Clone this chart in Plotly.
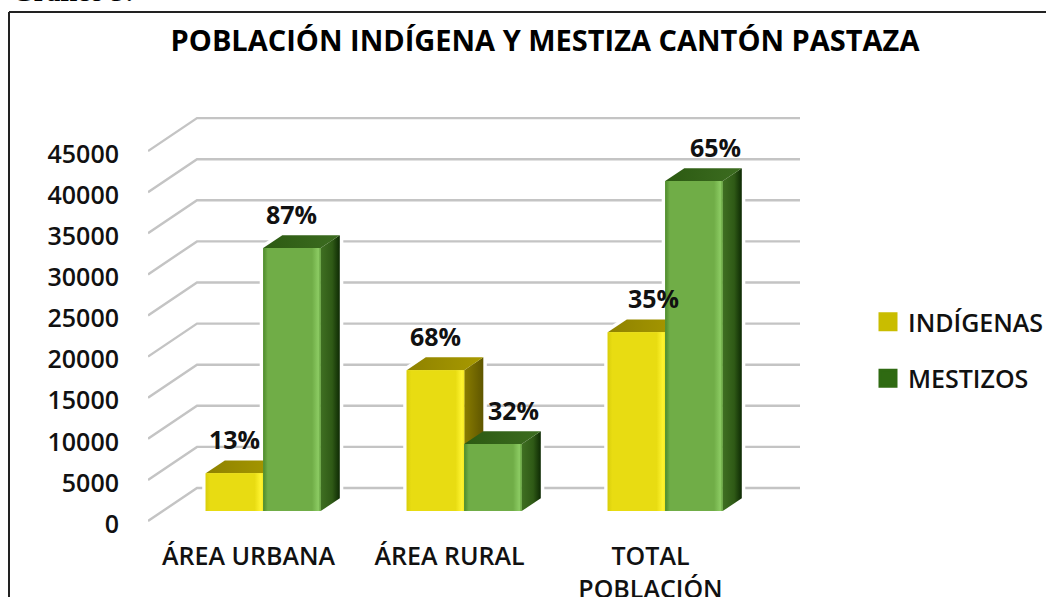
import plotly.graph_objects as go

# ---- data ----
categories = ["ÁREA URBANA", "ÁREA RURAL", "TOTAL<br>POBLACIÓN"]
indigenas = [4600, 17150, 21750]
mestizos = [32000, 8150, 40150]
indigenas_pct = ["13%", "68%", "35%"]
mestizos_pct = ["87%", "32%", "65%"]
y_ticks = [0, 5000, 10000, 15000, 20000, 25000, 30000, 35000, 40000, 45000]
title = "POBLACIÓN INDÍGENA Y MESTIZA CANTÓN PASTAZA"
caption = "Gráfico 3:"

# ---- oblique projection, in axis units ----
W, H = 1046, 597
L, R, T, B = 148, 800, 105, 535
PX_PER_CAT = 201.0
UNITS_PER_PX = 5000 / 41.1
Y0_PX = 521
WALL_DX = 49 / PX_PER_CAT
WALL_DY = 33 * UNITS_PER_PX
D_FRONT = 0.30
D_DEPTH = 0.39
BAR_W = 0.286
FONT = "Open Sans"
TXT = "#111111"


def px(x):
    return x / W


def py(y):
    return 1 - y / H


def paper_x(x):
    return (x - L) / (R - L)


def paper_y(y):
    return (B - y) / (B - T)


fig = go.Figure()

# walls
x_end = (R - L) / PX_PER_CAT
for v in y_ticks:
    fig.add_trace(go.Scatter(
        x=[0, WALL_DX, x_end], y=[v, v + WALL_DY, v + WALL_DY], mode="lines",
        line=dict(color="#c4c4c4", width=2.4), showlegend=False, hoverinfo="skip", zorder=0))


def poly(xs, ys, scale, z):
    fig.add_trace(go.Scatter(
        x=xs + xs[:1], y=ys + ys[:1], mode="lines", fill="toself", line=dict(width=0),
        fillgradient=dict(type="horizontal", colorscale=scale),
        showlegend=False, hoverinfo="skip", zorder=z))


def bar3d(cx, val, face, side, top, solid, name, z):
    base = D_FRONT * WALL_DY
    dx, dy = D_DEPTH * WALL_DX, D_DEPTH * WALL_DY
    x0, x1 = cx - BAR_W / 2, cx + BAR_W / 2
    y0, y1 = base, base + val
    # white halo that interrupts the grid lines around the bar
    fig.add_trace(go.Scatter(
        x=[x0, x1, x1 + dx, x1 + dx, x0 + dx, x0, x0],
        y=[y0, y0, y0 + dy, y1 + dy, y1 + dy, y1, y0], mode="lines",
        line=dict(color="white", width=7), showlegend=False, hoverinfo="skip", zorder=1))
    poly([x1, x1 + dx, x1 + dx, x1], [y0, y0 + dy, y1 + dy, y1], side, z)
    poly([x0, x0 + dx, x1 + dx, x1], [y1, y1 + dy, y1 + dy, y1], top, z)
    fig.add_trace(go.Bar(
        x=[cx], y=[val], base=[base], width=BAR_W, marker=dict(color=solid, line=dict(width=0)),
        name=name, showlegend=False, hoverinfo="skip", zorder=z + 1))
    poly([x0, x1, x1, x0], [y0, y0, y1, y1], face, z + 2)


Y_FACE = [[0, "#d9ce0c"], [0.08, "#e8dc12"], [0.85, "#e8dc12"], [0.96, "#fff430"], [1, "#f5e820"]]
Y_SIDE = [[0, "#8a7d00"], [1, "#5f5600"]]
Y_TOP = [[0, "#8f8200"], [1, "#a89a00"]]
G_FACE = [[0, "#4e8a2c"], [0.08, "#70ad47"], [0.85, "#70ad47"], [0.96, "#8ccb63"], [1, "#5f9c3a"]]
G_SIDE = [[0, "#3f6f22"], [0.6, "#2f5a16"], [1, "#0e2a04"]]
G_TOP = [[0, "#2c5a12"], [1, "#3c6c20"]]

centers = [i + 0.5 + D_FRONT * WALL_DX for i in range(len(categories))]
for i, c in enumerate(centers):
    bar3d(c - BAR_W / 2, indigenas[i], Y_FACE, Y_SIDE, Y_TOP, "#e8dc12", "INDÍGENAS", 2 + 4 * i)
    bar3d(c + BAR_W / 2, mestizos[i], G_FACE, G_SIDE, G_TOP, "#70ad47", "MESTIZOS", 4 + 4 * i)

# legend entries
fig.add_trace(go.Scatter(x=[None], y=[None], mode="markers", name="INDÍGENAS", legendgroup="a",
                         marker=dict(symbol="square", size=16, color="#c9bd00",
                                     line=dict(color="#c9bd00", width=3))))
fig.add_trace(go.Scatter(x=[None], y=[None], mode="markers", name="MESTIZOS", legendgroup="b",
                         marker=dict(symbol="square", size=16, color="#2f6a12",
                                     line=dict(color="#2f6a12", width=3))))

# data labels
lab_dx_ind = [0, 0, 17]
lab_dx_mes = [0, 21, 22]
annotations = []
base = D_FRONT * WALL_DY
for i, c in enumerate(centers):
    for cx, v, t, d in ((c - BAR_W / 2, indigenas[i], indigenas_pct[i], lab_dx_ind[i]),
                        (c + BAR_W / 2, mestizos[i], mestizos_pct[i], lab_dx_mes[i])):
        annotations.append(dict(x=cx, y=base + v, text=f"<b>{t}</b>", showarrow=False, xshift=d,
                                yshift=34, xanchor="center", yanchor="middle",
                                font=dict(family=FONT, size=25, color=TXT)))
annotations.append(dict(xref="paper", yref="paper", x=paper_x(10), y=paper_y(9), text=f"<b>{caption}</b>",
                        showarrow=False, xanchor="left", yanchor="bottom",
                        font=dict(family="Liberation Serif", size=28, color="#000000")))

frame = dict(type="line", xref="paper", yref="paper", line=dict(color="#222222", width=2), layer="above")
shapes = [
    dict(frame, x0=paper_x(9), x1=paper_x(W), y0=paper_y(12), y1=paper_y(12)),
    dict(frame, x0=paper_x(9), x1=paper_x(9), y0=paper_y(12), y1=paper_y(H)),
]

fig.update_layout(
    width=W, height=H, autosize=False,
    margin=dict(l=L, r=W - R, t=T, b=H - B, pad=0),
    paper_bgcolor="white", plot_bgcolor="rgba(0,0,0,0)",
    barmode="overlay",
    title=dict(text=f"<b>{title}</b>", x=px(545), xanchor="center", y=py(41), yanchor="middle",
               automargin=False, font=dict(family=FONT, size=29, color="#000000")),
    xaxis=dict(range=[0, x_end], tickmode="array", tickvals=[i + 0.5 for i in range(len(categories))],
               ticktext=categories, showgrid=False, zeroline=False, showline=False, ticks="",
               ticklabelstandoff=4, tickangle=0, automargin=False,
               tickfont=dict(family=FONT, size=25, color=TXT, weight=600)),
    yaxis=dict(range=[-(B - Y0_PX) * UNITS_PER_PX, (Y0_PX - T) * UNITS_PER_PX], tickmode="array",
               tickvals=[v - 3 * UNITS_PER_PX for v in y_ticks], ticktext=[str(v) for v in y_ticks],
               showgrid=False, zeroline=False,
               showline=False, ticks="", ticklabelstandoff=28, automargin=False,
               tickfont=dict(family=FONT, size=25, color=TXT, weight=600)),
    legend=dict(xref="container", yref="container", x=px(868), y=py(299), xanchor="left", yanchor="top",
                tracegroupgap=21, itemwidth=30, font=dict(family=FONT, size=25, color=TXT, weight=600),
                bgcolor="rgba(0,0,0,0)", borderwidth=0),
    annotations=annotations, shapes=shapes, showlegend=True,
)

fig.write_html("out.html", config=dict(displayModeBar=False),
               post_script="document.body.style.margin='0';document.body.style.overflow='hidden';")
